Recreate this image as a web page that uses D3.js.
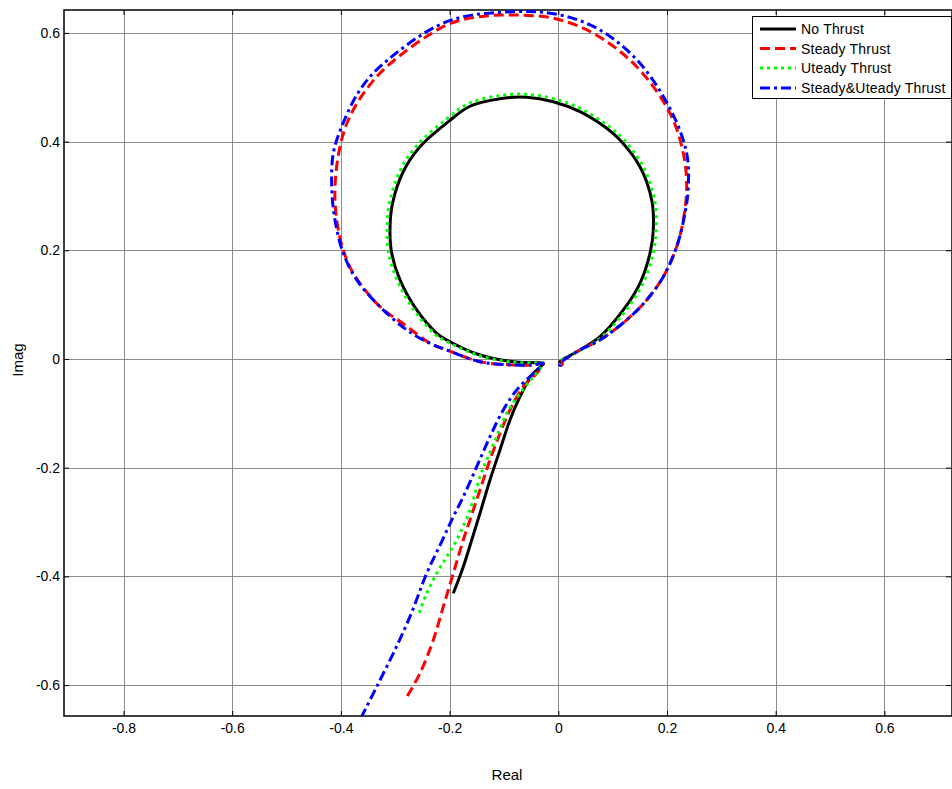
<!DOCTYPE html>
<html>
<head>
<meta charset="utf-8">
<script src="https://cdn.jsdelivr.net/npm/d3@7"></script>
<style>
html,body{margin:0;padding:0;background:#fff;}
svg{display:block;font-family:"Liberation Sans",Arial,sans-serif;}
</style>
</head>
<body>
<svg id="chart" width="952" height="789"></svg>
<script>
const xTicks = [-0.8,-0.6,-0.4,-0.2,0,0.2,0.4,0.6];
const yTicks = [-0.6,-0.4,-0.2,0,0.2,0.4,0.6];
const xTickLabels = ["-0.8","-0.6","-0.4","-0.2","0","0.2","0.4","0.6"];
const yTickLabels = ["-0.6","-0.4","-0.2","0","0.2","0.4","0.6"];
const seriesNames = ["No Thrust","Steady Thrust","Uteady Thrust","Steady&Uteady Thrust"];

// [real, imag] points
const noThrust = [
[-0.1932,-0.4311],[-0.1748,-0.3822],[-0.1593,-0.3330],[-0.1441,-0.2839],[-0.1257,-0.2226],
[-0.1073,-0.1674],[-0.0889,-0.1122],[-0.0705,-0.0694],[-0.0484,-0.0294],[-0.0276,-0.0079],
[-0.0397,-0.0068],[-0.0828,-0.0050],[-0.1441,0.0074],[-0.2053,0.0350],[-0.2237,0.0473],
[-0.2605,0.0902],[-0.2913,0.1454],[-0.3065,0.1945],[-0.3097,0.2374],[-0.3050,0.2865],
[-0.2852,0.3450],[-0.2545,0.3906],[-0.2024,0.4366],[-0.1625,0.4650],[-0.1073,0.4790],
[-0.0581,0.4815],[-0.0092,0.4734],[0.0399,0.4550],[0.0891,0.4245],[0.1135,0.4030],
[0.1503,0.3538],[0.1719,0.2925],[0.1748,0.2374],[0.1687,0.1945],[0.1503,0.1393],
[0.1196,0.0902],[0.0767,0.0410],[0.0399,0.0166],[0.0040,-0.0040],[0.0020,-0.0080]
];
const steadyThrust = [
[-0.2778,-0.6201],[-0.2545,-0.5783],[-0.2300,-0.5170],[-0.2116,-0.4558],[-0.1932,-0.3943],
[-0.1748,-0.3330],[-0.1625,-0.2962],[-0.1441,-0.2410],[-0.1257,-0.1858],[-0.1073,-0.1367],
[-0.0889,-0.0938],[-0.0644,-0.0510],[-0.0397,-0.0263],[-0.0276,-0.0079],
[-0.0460,-0.0110],[-0.0828,-0.0110],[-0.1441,-0.0050],[-0.2053,0.0166],[-0.2361,0.0289],
[-0.2821,0.0626],[-0.3281,0.0962],[-0.3772,0.1577],[-0.3956,0.2006],[-0.4077,0.2558],
[-0.4109,0.3170],[-0.4017,0.3906],[-0.3864,0.4397],[-0.3578,0.4894],[-0.3157,0.5378],
[-0.2053,0.6145],[-0.1441,0.6298],[-0.0828,0.6329],[-0.0092,0.6269],[0.0644,0.5993],
[0.1443,0.5378],[0.2055,0.4521],[0.2300,0.3785],[0.2362,0.3170],[0.2300,0.2558],
[0.2178,0.2066],[0.1932,0.1514],[0.1627,0.1086],[0.1258,0.0718],[0.0767,0.0350],
[0.0399,0.0166],[0.0050,-0.0060],[0.0020,-0.0110],[0.0070,-0.0110],[0.0070,-0.0040]
];
const uteadyThrust = [
[-0.2558,-0.4668],[-0.2421,-0.4311],[-0.2237,-0.3943],[-0.2053,-0.3638],[-0.1869,-0.3330],
[-0.1625,-0.2778],[-0.1441,-0.2166],[-0.1317,-0.1858],[-0.1133,-0.1430],[-0.0949,-0.0999],
[-0.0705,-0.0631],[-0.0460,-0.0326],[-0.0276,-0.0074],
[-0.0397,-0.0068],[-0.0830,-0.0060],[-0.1450,0.0060],[-0.2070,0.0330],[-0.2260,0.0450],
[-0.2640,0.0880],[-0.2960,0.1440],[-0.3120,0.1940],[-0.3150,0.2374],[-0.3105,0.2880],
[-0.2900,0.3490],[-0.2590,0.3940],[-0.2060,0.4410],[-0.1650,0.4700],[-0.1085,0.4845],
[-0.0580,0.4870],[-0.0080,0.4785],[0.0425,0.4600],[0.0925,0.4285],[0.1175,0.4065],
[0.1550,0.3560],[0.1770,0.2940],[0.1800,0.2374],[0.1740,0.1920],[0.1545,0.1365],
[0.1225,0.0870],[0.0780,0.0390],[0.0400,0.0160],[0.0040,-0.0040],[0.0020,-0.0080]
];
const steadyUteadyThrust = [
[-0.3630,-0.6600],[-0.3588,-0.6519],[-0.3341,-0.6029],[-0.3036,-0.5415],[-0.2729,-0.4742],
[-0.2421,-0.3943],[-0.2145,-0.3362],[-0.1932,-0.2902],[-0.1748,-0.2534],[-0.1501,-0.1982],
[-0.1257,-0.1430],[-0.1012,-0.0938],[-0.0765,-0.0570],[-0.0460,-0.0263],[-0.0276,-0.0079],
[-0.0460,-0.0110],[-0.0828,-0.0110],[-0.1441,-0.0050],[-0.2053,0.0166],[-0.2361,0.0289],
[-0.2789,0.0534],[-0.3281,0.0962],[-0.3709,0.1454],[-0.3956,0.1945],[-0.4109,0.2558],
[-0.4169,0.3170],[-0.4140,0.3785],[-0.3985,0.4274],[-0.3685,0.4894],[-0.3281,0.5378],
[-0.2053,0.6206],[-0.0828,0.6390],[0.0031,0.6329],[0.0767,0.6053],[0.1503,0.5441],
[0.2100,0.4520],[0.2362,0.3785],[0.2392,0.3170],[0.2331,0.2681],[0.2178,0.2066],
[0.1932,0.1514],[0.1627,0.1086],[0.1258,0.0718],[0.0767,0.0350],[0.0399,0.0166],
[0.0050,-0.0060],[0.0020,-0.0110],[0.0070,-0.0110],[0.0070,-0.0040]
];

const seriesData = [noThrust, steadyThrust, uteadyThrust, steadyUteadyThrust];
const seriesColors = ["#000000","#ff0000","#00ff00","#0000ff"];
const seriesDash = [null,"10,5","3,4","10,4,3,4"];

const svg = d3.select("#chart");
const L = 64, T = 10, R = 952, B = 716;
const x = d3.scaleLinear().domain([-0.9095, 0.7244]).range([L, R]);
const y = d3.scaleLinear().domain([-0.6569, 0.6421]).range([B, T]);

svg.append("defs").append("clipPath").attr("id","clip")
  .append("rect").attr("x",L).attr("y",T).attr("width",R-L).attr("height",B-T);

// grid
const g = svg.append("g");
g.selectAll(".gx").data(xTicks).enter().append("line")
  .attr("x1",d=>Math.round(x(d))+0.5).attr("x2",d=>Math.round(x(d))+0.5).attr("y1",T).attr("y2",B)
  .attr("stroke","#8c8c8c").attr("stroke-width",1);
g.selectAll(".gy").data(yTicks).enter().append("line")
  .attr("y1",d=>Math.round(y(d))+0.5).attr("y2",d=>Math.round(y(d))+0.5).attr("x1",L).attr("x2",R)
  .attr("stroke","#8c8c8c").attr("stroke-width",1);

// axes using d3 axis
const tickFmt = (arr, labels) => (d => labels[arr.indexOf(d)]);
const xAxis = svg.append("g").attr("transform",`translate(0,${B})`)
  .call(d3.axisBottom(x).tickValues(xTicks).tickFormat(tickFmt(xTicks,xTickLabels)).tickSizeInner(-5).tickSizeOuter(0).tickPadding(7));
const yAxis = svg.append("g").attr("transform",`translate(${L},0)`)
  .call(d3.axisLeft(y).tickValues(yTicks).tickFormat(tickFmt(yTicks,yTickLabels)).tickSizeInner(-5).tickSizeOuter(0).tickPadding(4));
const xTop = svg.append("g").attr("transform",`translate(0,${T})`)
  .call(d3.axisTop(x).tickValues(xTicks).tickFormat("").tickSizeInner(-5).tickSizeOuter(0));
const yRight = svg.append("g").attr("transform",`translate(${R-1},0)`)
  .call(d3.axisRight(y).tickValues(yTicks).tickFormat("").tickSizeInner(-5).tickSizeOuter(0));
[xAxis,yAxis,xTop,yRight].forEach(a=>{
  a.select(".domain").remove();
  a.selectAll("line").attr("stroke","#000");
  a.selectAll("text").attr("font-family","Liberation Sans, Arial, sans-serif").attr("font-size",14).attr("fill","#000");
});

// border
svg.append("rect").attr("x",L).attr("y",T).attr("width",R-L).attr("height",B-T)
  .attr("fill","none").attr("stroke","#000").attr("stroke-width",1.5);

// curves
const line = d3.line().x(d=>x(d[0])).y(d=>y(d[1])).curve(d3.curveCatmullRom.alpha(0.5));
const plot = svg.append("g").attr("clip-path","url(#clip)");
seriesData.forEach((data,i)=>{
  plot.append("path").datum(data).attr("d",line)
    .attr("fill","none").attr("stroke",seriesColors[i]).attr("stroke-width",3)
    .attr("stroke-dasharray",seriesDash[i]).attr("stroke-linejoin","round");
});

// labels
svg.append("text").attr("x",507).attr("y",780).attr("text-anchor","middle")
  .attr("font-size",15).text("Real");
svg.append("text").attr("transform","translate(23,360) rotate(-90)").attr("text-anchor","middle")
  .attr("font-size",15).text("Imag");

// legend
const lg = svg.append("g");
lg.append("rect").attr("x",752.5).attr("y",16.5).attr("width",199).attr("height",82)
  .attr("fill","#fff").attr("stroke","#000").attr("stroke-width",1);
const rowY = [29,48.5,68,88];
seriesNames.forEach((n,i)=>{
  lg.append("line").attr("x1",760).attr("x2",796).attr("y1",rowY[i]).attr("y2",rowY[i])
    .attr("stroke",seriesColors[i]).attr("stroke-width",3).attr("stroke-dasharray",seriesDash[i]);
  lg.append("text").attr("x",801).attr("y",rowY[i]+5).attr("font-size",14).attr("letter-spacing","0.2px").text(n);
});
</script>
</body>
</html>
